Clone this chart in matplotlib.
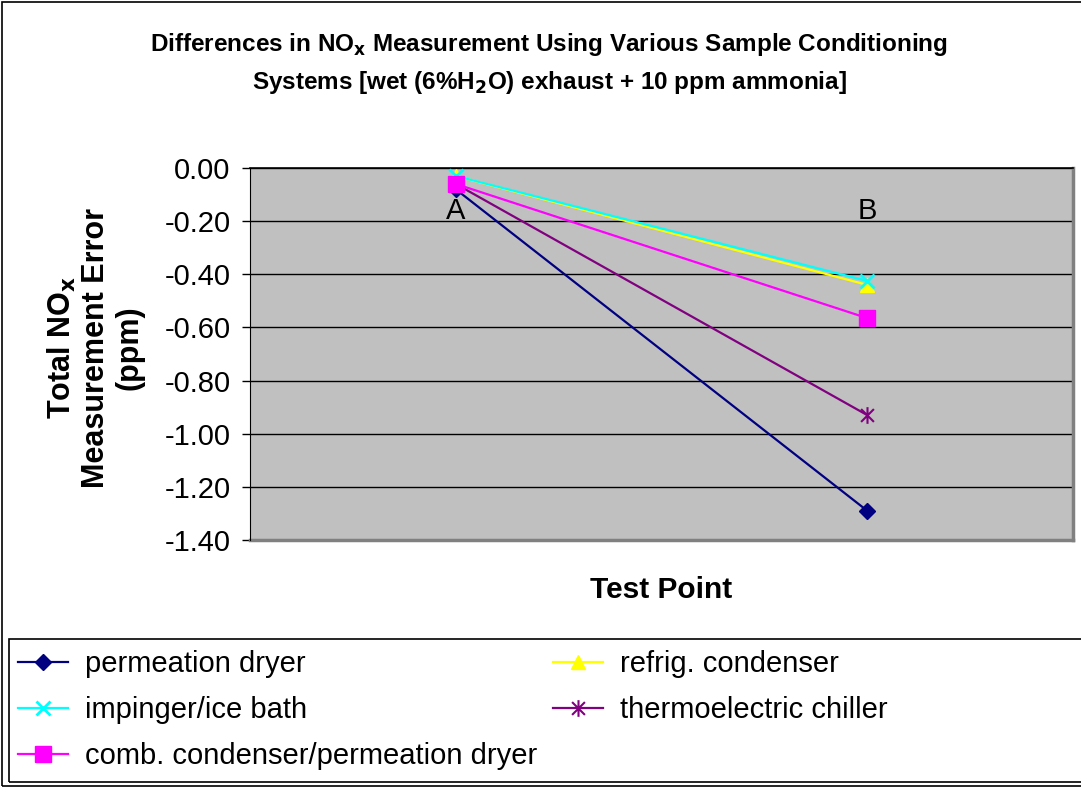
import matplotlib
matplotlib.use("Agg")
import matplotlib.pyplot as plt
from matplotlib.path import Path
from matplotlib.patches import Rectangle

plt.rcParams['font.family'] = ['Liberation Sans', 'DejaVu Sans']

categories = ["A", "B"]
permeation_dryer = [-0.08, -1.29]
refrig_condenser = [-0.03, -0.44]
impinger_ice_bath = [-0.03, -0.425]
thermoelectric_chiller = [-0.06, -0.93]
comb_condenser = [-0.06, -0.565]
yticks = [0.0, -0.2, -0.4, -0.6, -0.8, -1.0, -1.2, -1.4]

# Excel-style asterisk: X plus vertical bar
star_path = Path(
    [(-1, -1), (1, 1), (-1, 1), (1, -1), (0, -1.3), (0, 1.3)],
    [Path.MOVETO, Path.LINETO, Path.MOVETO, Path.LINETO, Path.MOVETO, Path.LINETO],
)

fig = plt.figure(figsize=(10.81, 7.88), dpi=100)
fig.patch.set_facecolor("white")
fig.patches.append(Rectangle((0.0015, 0.002), 1.2, 0.9955, transform=fig.transFigure,
                             fill=False, edgecolor="black", linewidth=1.2, zorder=0))
# legend frame
fig.patches.append(Rectangle((9 / 1081, 1 - 782 / 788), 1.2, 143 / 788, transform=fig.transFigure,
                             fill=False, edgecolor="black", linewidth=1.2, zorder=0))

ax = fig.add_axes([250 / 1081, 1 - 540 / 788, 823 / 1081, 372 / 788])
ax.set_facecolor("#C0C0C0")
x = [0.5, 1.5]
ax.set_xlim(0, 2)
ax.set_ylim(-1.4, 0.0)
ax.spines["bottom"].set_position(("data", 0))

for y in yticks:
    ax.axhline(y, color="black", linewidth=1.0, zorder=1)

series = [
    ("permeation dryer", permeation_dryer, "#000080", dict(marker="D", markersize=8)),
    ("refrig. condenser", refrig_condenser, "#FFFF00", dict(marker="^", markersize=10)),
    ("impinger/ice bath", impinger_ice_bath, "#00FFFF", dict(marker="x", markersize=10, markeredgewidth=2)),
    ("thermoelectric chiller", thermoelectric_chiller, "#800080", dict(marker=star_path, markersize=12, markeredgewidth=1.5)),
    ("comb. condenser/permeation dryer", comb_condenser, "#FF00FF", dict(marker="s", markersize=11)),
]
handles = {}
for i, (name, vals, col, mk) in enumerate(series):
    h, = ax.plot(x, vals, color=col, linewidth=1.6, markerfacecolor=col,
                 markeredgecolor=col, label=name, zorder=3 + i, clip_on=False, **mk)
    handles[name] = h

ax.set_yticks(yticks)
ax.set_yticklabels([f"{v:.2f}" for v in yticks])
ax.tick_params(axis="y", length=6, width=1, direction="out", pad=8, labelsize=21)

ax.set_xticks(x)
ax.set_xticklabels(categories)
ax.tick_params(axis="x", length=0, pad=21, labelsize=21)

ax.spines["top"].set_visible(False)
ax.spines["right"].set_visible(False)
ax.spines["left"].set_color("black")
ax.spines["bottom"].set_color("black")
ax.spines["bottom"].set_linewidth(1.2)
# plot-area border (gray) on right and bottom
ax.plot([1, 1], [0, 1], transform=ax.transAxes, color="#808080", linewidth=2.5, clip_on=False, zorder=2)
ax.plot([0, 1], [0, 0], transform=ax.transAxes, color="#808080", linewidth=2.5, clip_on=False, zorder=2)

fig.text(549 / 1081, 1 - 45 / 788, r"Differences in NO$_\mathbf{x}$ Measurement Using Various Sample Conditioning",
         ha="center", va="center", fontsize=17.5, fontweight="bold")
fig.text(549 / 1081, 1 - 82 / 788, r"Systems [wet (6%H$_\mathbf{2}$O) exhaust + 10 ppm ammonia]",
         ha="center", va="center", fontsize=17.5, fontweight="bold")

fig.text(95 / 1081, 1 - 348 / 788, "Total NO$_\\mathbf{x}$\nMeasurement Error\n(ppm)",
         rotation=90, ha="center", va="center", fontsize=22, fontweight="bold",
         linespacing=1.15, multialignment="center")

fig.text(661 / 1081, 1 - 590 / 788, "Test Point", ha="center", va="center",
         fontsize=21.5, fontweight="bold")

order = ["permeation dryer", "impinger/ice bath", "comb. condenser/permeation dryer",
         "refrig. condenser", "thermoelectric chiller"]
leg = fig.legend([handles[n] for n in order], order, loc="upper left",
                 bbox_to_anchor=(18 / 1081, 1 - 650 / 788),
                 ncol=2, fontsize=21, frameon=False,
                 handlelength=1.72, handletextpad=0.58, columnspacing=0.52,
                 labelspacing=0.62, borderaxespad=0, borderpad=0)

fig.savefig("out.png", dpi=100, facecolor="white")
